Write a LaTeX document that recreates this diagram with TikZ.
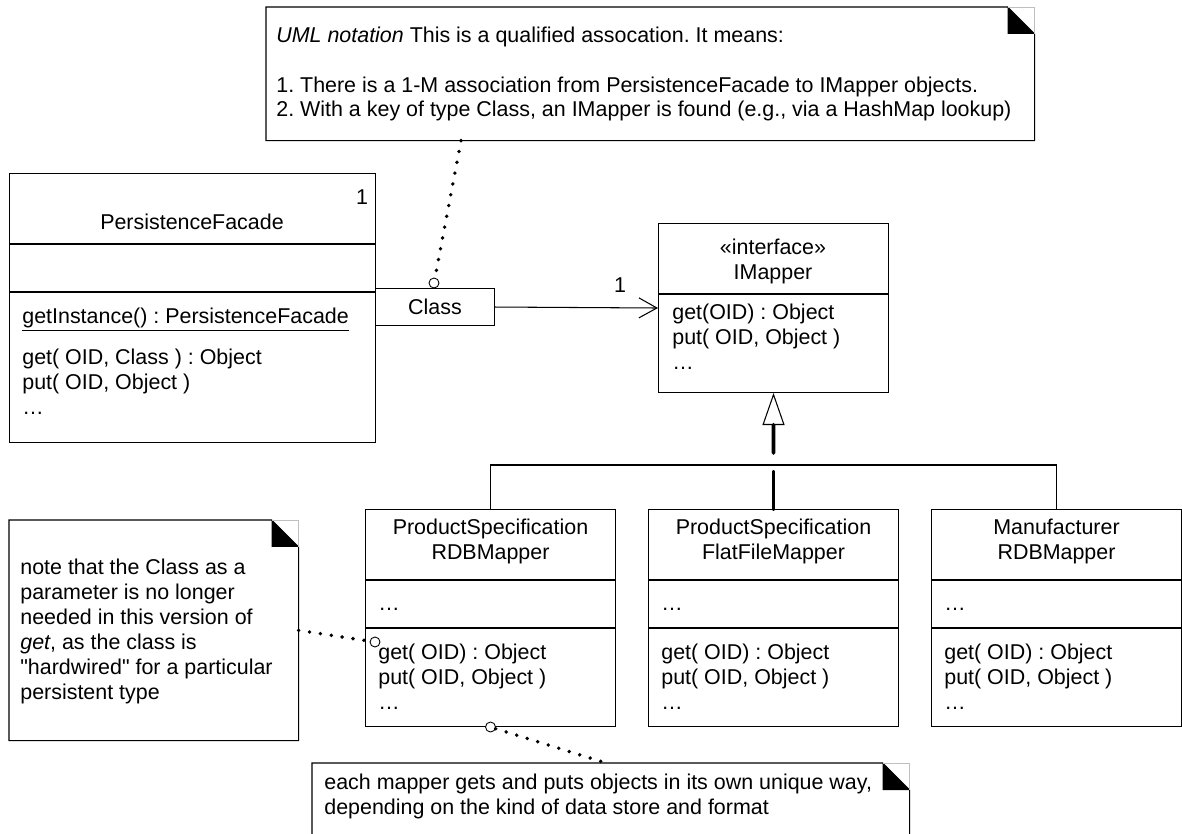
\documentclass[tikz,border=0pt]{standalone}
\usepackage{fontspec}
\setmainfont{Liberation Sans}[Ligatures=TeXOff]
\usetikzlibrary{arrows.meta}
\newcommand{\umlfont}{\fontsize{12.2pt}{14.2pt}\selectfont\frenchspacing}
% note outline with the folded corner
\newcommand{\notefold}[1]{%
  \draw[umlline] (#1.north west) -- ([xshift=-0.54cm]#1.north east) -- ([yshift=-0.54cm]#1.north east) -- (#1.south east) -- (#1.south west) -- cycle;
  \fill ([xshift=-0.54cm]#1.north east) -- ([xshift=-0.54cm,yshift=-0.54cm]#1.north east) -- ([yshift=-0.54cm]#1.north east) -- cycle;
  \draw[black!25, line width=0.4pt] ([xshift=-0.54cm]#1.north east) -- (#1.north east) -- ([yshift=-0.54cm]#1.north east);
}

\begin{document}
\begin{tikzpicture}[x=0.02cm, y=-0.02cm,
    umlline/.style={draw=black, line width=0.6pt},
    classbox/.style={rectangle, draw=black, line width=0.6pt, inner sep=0pt, anchor=north west, font=\umlfont},
    nameline/.style={align=center, font=\umlfont, inner sep=0pt},
    memberline/.style={align=left, anchor=base west, font=\umlfont, inner sep=0pt},
    notebox/.style={rectangle, draw=none, inner sep=0pt, anchor=north west},
    notetext/.style={align=left, anchor=base west, font=\umlfont, inner sep=0pt},
    anchordot/.style={circle, draw=black, fill=white, line width=0.5pt, minimum size=0.2cm, inner sep=0pt},
    noteline/.style={line width=2.2pt, line cap=round, dash pattern=on 0pt off 0.22cm},
    assoc/.style={umlline, -{Straight Barb[length=0.36cm, width=0.4cm]}},
    genline/.style={line width=2.2pt, line cap=round},
  ]
  \path[use as bounding box] (0,0) rectangle (1182,834);
  \clip (0,0) rectangle (1182,834);

  % notes (text nodes sit on the baseline of their last line)
  \node[notebox, minimum width=15.36cm, minimum height=2.66cm] (qualnote) at (266,7) {};
  \notefold{qualnote}
  \node[notetext] (qualnotetext) at (276,117) {\textit{UML notation} This is a qualified assocation. It means:\\[14.2pt]
    1. There is a 1-M association from PersistenceFacade to IMapper objects.\\
    2. With a key of type Class, an IMapper is found (e.g., via a HashMap lookup)};

  \node[notebox, minimum width=5.78cm, minimum height=4.4cm] (paramnote) at (9,520) {};
  \notefold{paramnote}
  \node[notetext] (paramnotetext) at (20,699) {note that the Class as a\\parameter is no longer\\needed in this version of\\\textit{get}, as the class is\\"hardwired" for a particular\\persistent type};

  \node[notebox, minimum width=11.94cm, minimum height=2.0cm] (waynote) at (312,763) {};
  \notefold{waynote}
  \node[notetext] (waynotetext) at (324,814) {each mapper gets and puts objects in its own unique way,\\depending on the kind of data store and format};

  % facade
  \node[classbox, minimum width=7.32cm, minimum height=5.38cm] (facade) at (9,173) {};
  \draw[umlline] (facade.west |- 0,244) -- (facade.east |- 0,244);
  \draw[umlline] (facade.west |- 0,292) -- (facade.east |- 0,292);
  \node[nameline] (facadename) at (192,222) {PersistenceFacade};
  \node[nameline] (facademult) at (362,197) {1};
  \node[memberline] (facadeinst) at (22,323) {\underline{getInstance() : PersistenceFacade}};
  \node[memberline] (facadeops) at (22,414) {get( OID, Class ) : Object\\put( OID, Object )\\…};
  \node[classbox, minimum width=2.38cm, minimum height=0.74cm] (qualifier) at (375,288) {Class};

  % interface
  \node[classbox, minimum width=4.6cm, minimum height=3.38cm] (imapper) at (658,223) {};
  \draw[umlline] (imapper.west |- 0,294) -- (imapper.east |- 0,294);
  \node[nameline] (imappername) at (773,261) {«interface»\\IMapper};
  \node[memberline] (imapperops) at (672,369) {get(OID) : Object\\put( OID, Object )\\…};

  % mappers
  \node[classbox, minimum width=5cm, minimum height=4.34cm] (specrdb) at (365,509) {};
  \node[classbox, minimum width=5cm, minimum height=4.34cm] (specflat) at (648,509) {};
  \node[classbox, minimum width=5cm, minimum height=4.34cm] (manurdb) at (931,509) {};
  \foreach \m in {specrdb, specflat, manurdb} {
    \draw[umlline] (\m.west |- 0,580) -- (\m.east |- 0,580);
    \draw[umlline] (\m.west |- 0,628) -- (\m.east |- 0,628);
  }
  \node[nameline] (specrdbname) at (specrdb.north |- 0,541) {ProductSpecification\\RDBMapper};
  \node[nameline] (specflatname) at (specflat.north |- 0,541) {ProductSpecification\\FlatFileMapper};
  \node[nameline] (manurdbname) at (manurdb.north |- 0,541) {Manufacturer\\RDBMapper};
  \node[memberline] (specrdbattr) at (378,610) {…};
  \node[memberline] (specflatattr) at (661,610) {…};
  \node[memberline] (manurdbattr) at (944,610) {…};
  \node[memberline] (specrdbops) at (378,709) {get( OID) : Object\\put( OID, Object )\\…};
  \node[memberline] (specflatops) at (661,709) {get( OID) : Object\\put( OID, Object )\\…};
  \node[memberline] (manurdbops) at (944,709) {get( OID) : Object\\put( OID, Object )\\…};

  % connectors
  \draw[assoc] (qualifier.east) -- (imapper.west);
  \node[nameline] (assocmult) at (620,285) {1};
  \draw[umlline] (specrdb.north) -- (specrdb.north |- 0,465) -- (manurdb.north |- 0,465) -- (manurdb.north);
  \draw[genline] (specflat.north) -- (specflat.north |- 0,472);
  \draw[genline, -{Triangle[open, length=0.64cm, width=0.44cm, line width=0.6pt]}] (specflat.north |- 0,453) -- (imapper.south);

  \node[anchordot] (qualdot) at (434,283) {};
  \node[anchordot] (getdot) at (375,642) {};
  \node[anchordot] (mapperdot) at (specrdb.south) {};
  \draw[noteline] (qualnote.south -| 461,0) -- (qualdot);
  \draw[noteline] (paramnote.east) -- (getdot);
  \draw[noteline] (mapperdot) -- (waynote.north -| 606,0);
\end{tikzpicture}
\end{document}
